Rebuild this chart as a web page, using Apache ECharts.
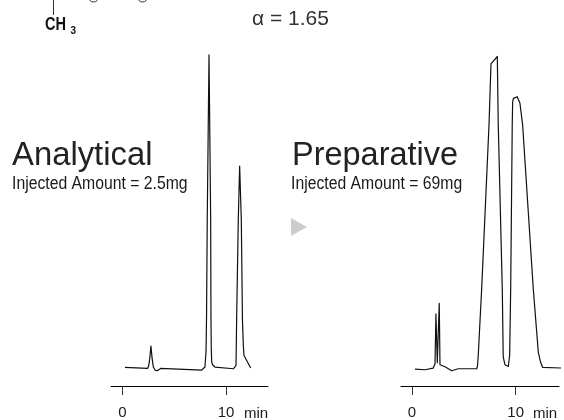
<!DOCTYPE html>
<html><head><meta charset="utf-8">
<style>html,body{margin:0;padding:0;background:#fff}#c{width:564px;height:420px}</style>
<script src="https://cdn.jsdelivr.net/npm/echarts@6/dist/echarts.min.js"></script>
</head><body><div id="c"></div>
<script>
const tickLabels = [0, 10];
const analyticalTime = [0.24,2.43,2.52,2.61,2.75,2.85,2.98,3.15,3.36,3.69,7.65,7.97,8.07,8.12,8.19,8.36,8.52,8.55,8.58,8.62,8.70,8.94,10.71,10.97,11.03,11.19,11.32,11.48,11.59,11.67,11.74,12.0,12.39];
const analyticalSignal = [18.6,17.6,20,25.3,40,29,19,16,15.3,17.6,16,19,34.3,67.3,167.3,332.3,167.3,67.3,37,24.3,21.3,19,17.3,20.6,67.3,167.3,220.6,167.3,67.3,42,30.6,25.6,18];
const preparativeTime = [0.29,1.25,2.05,2.22,2.31,2.44,2.63,2.70,3.18,3.83,4.46,6.24,6.32,6.39,6.72,7.43,7.62,8.23,8.32,8.71,8.80,8.97,9.29,9.42,9.52,9.67,9.71,9.79,9.93,10.15,10.26,10.41,10.67,11.70,12.18,12.39,12.60,14.59];
const preparativeSignal = [17,16.3,18,22.3,72.3,23.3,83,21.3,19.3,15.3,17.3,17.3,20.3,30.6,97.3,262.3,323.3,330.6,262.3,97.3,29.3,21.3,19.6,30.6,97.3,262.3,285.6,288.6,290.3,290.3,288.8,284,262.3,97.3,34.3,24.3,18.6,18];
const zip = (a, b) => a.map((v, i) => [v, b[i]]);
const ink = '#1a1a1a';
const SANS = '"Liberation Sans", Arimo, sans-serif';

function xAxis(idx, min, max) {
  return {
    gridIndex: idx, type: 'value', min, max,
    splitLine: {show: false},
    axisLine: {show: true, onZero: false, lineStyle: {color: '#000', width: 1}},
    axisTick: {show: true, length: 9, lineStyle: {color: '#333', width: 1}, customValues: tickLabels},
    axisLabel: {show: true, margin: 19, color: ink, fontFamily: SANS, fontSize: 15, customValues: tickLabels, showMinLabel: true, showMaxLabel: true}
  };
}
function yAxis(idx) {
  return {gridIndex: idx, type: 'value', min: 0, max: 387.3, show: false, splitLine: {show: false}};
}
function trace(idx, t, s) {
  return {type: 'line', xAxisIndex: idx, yAxisIndex: idx, data: zip(t, s), showSymbol: false, symbol: 'none', clip: false, smooth: false,
    lineStyle: {color: '#111', width: 1.2, join: 'round'}};
}
function txt(x, y, text, size, extra, sx) {
  return {type: 'text', x, y, scaleX: sx || 1, silent: true, style: Object.assign({text, fill: ink, fontSize: size, fontFamily: SANS, verticalAlign: 'middle'}, extra || {})};
}
const chart = echarts.init(document.getElementById('c'), null, {renderer: 'canvas'});
chart.setOption({
  animation: false,
  backgroundColor: '#fff',
  grid: [
    {left: 111, width: 157, top: 0, height: 387.3},
    {left: 401, width: 158, top: 0, height: 387.3}
  ],
  xAxis: [xAxis(0, -1.11, 14.06), xAxis(1, -1.06, 14.18)],
  yAxis: [yAxis(0), yAxis(1)],
  series: [trace(0, analyticalTime, analyticalSignal), trace(1, preparativeTime, preparativeSignal)],
  graphic: [
    txt(12, 156, 'Analytical', 34, {fill: '#222'}, 0.965),
    txt(12, 184, 'Injected Amount = 2.5mg', 17.5, {}, 0.9),
    txt(292, 156, 'Preparative', 34, {fill: '#222'}, 0.955),
    txt(291, 184, 'Injected Amount = 69mg', 17.5, {}, 0.9),
    txt(252, 19, 'α = 1.65', 21, {fill: '#333'}),
    txt(45, 25, 'CH', 18, {fontWeight: 'bold', fill: '#111'}, 0.81),
    txt(70.5, 31, '3', 10, {fontWeight: 'bold', fill: '#111'}),
    txt(244, 413.5, 'min', 15),
    txt(533, 413.5, 'min', 15),
    {type: 'line', silent: true, shape: {x1: 53.5, y1: 0, x2: 53.5, y2: 15}, style: {stroke: '#333', lineWidth: 1}},
    {type: 'arc', silent: true, shape: {cx: 93.5, cy: -3, r: 5, startAngle: 0, endAngle: Math.PI}, style: {stroke: '#333', fill: 'none', lineWidth: 1}},
    {type: 'arc', silent: true, shape: {cx: 142.5, cy: -3, r: 5, startAngle: 0, endAngle: Math.PI}, style: {stroke: '#333', fill: 'none', lineWidth: 1}},
    {type: 'polygon', silent: true, shape: {points: [[291, 218], [307, 227], [291, 236]]}, style: {fill: '#cccccc'}}
  ]
});
</script></body></html>
